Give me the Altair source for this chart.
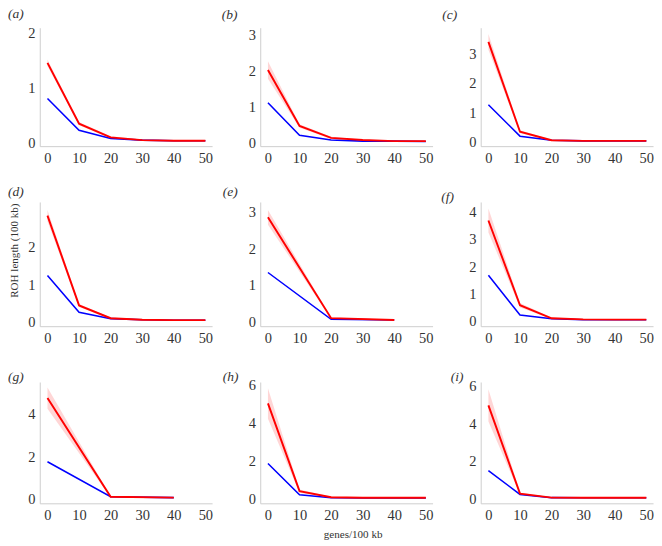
import altair as alt
import pandas as pd

# ---------------- data ----------------
x_full = [0, 10, 20, 30, 40, 50]
x_sparse = [0, 20, 40]
x_ticks = [0, 10, 20, 30, 40, 50]

panel_labels = ["(a)", "(b)", "(c)", "(d)", "(e)", "(f)", "(g)", "(h)", "(i)"]

red_a = [1.45, 0.34, 0.09, 0.04, 0.03, 0.03]
err_a = [0.06, 0.03, 0.02, 0.01, 0.01, 0.01]
blue_a = [0.80, 0.22, 0.07, 0.04, 0.03, 0.03]

red_b = [2.01, 0.46, 0.13, 0.07, 0.04, 0.04]
err_b = [0.24, 0.05, 0.03, 0.01, 0.01, 0.01]
blue_b = [1.10, 0.20, 0.07, 0.04, 0.04, 0.03]

red_c = [3.40, 0.34, 0.05, 0.03, 0.03, 0.03]
err_c = [0.27, 0.05, 0.02, 0.01, 0.01, 0.01]
blue_c = [1.26, 0.19, 0.05, 0.03, 0.03, 0.03]

red_d = [2.82, 0.44, 0.10, 0.06, 0.05, 0.05]
err_d = [0.15, 0.04, 0.02, 0.01, 0.01, 0.01]
blue_d = [1.23, 0.26, 0.09, 0.06, 0.05, 0.05]

red_e = [2.85, 0.09, 0.04]
err_e = [0.20, 0.02, 0.01]
blue_e = [1.34, 0.06, 0.04]

red_f = [3.68, 0.57, 0.09, 0.05, 0.04, 0.04]
err_f = [0.44, 0.08, 0.03, 0.01, 0.01, 0.01]
blue_f = [1.67, 0.21, 0.07, 0.04, 0.04, 0.04]

red_g = [4.75, 0.08, 0.04]
err_g = [0.50, 0.03, 0.01]
blue_g = [1.74, 0.08, 0.04]

red_h = [5.02, 0.42, 0.10, 0.07, 0.07, 0.07]
err_h = [0.80, 0.08, 0.03, 0.01, 0.01, 0.01]
blue_h = [1.87, 0.23, 0.07, 0.06, 0.06, 0.06]

red_i = [4.94, 0.29, 0.08, 0.07, 0.07, 0.07]
err_i = [0.85, 0.05, 0.02, 0.01, 0.01, 0.01]
blue_i = [1.50, 0.25, 0.08, 0.07, 0.07, 0.07]

y_domains = [
    [-0.07, 2.09], [-0.10, 3.18], [-0.15, 3.88],
    [-0.11, 3.18], [-0.13, 3.27], [-0.20, 4.36],
    [-0.23, 5.51], [-0.22, 6.14], [-0.22, 6.17],
]
y_ticks = [
    [0, 1, 2], [0, 1, 2, 3], [0, 1, 2, 3],
    [0, 1, 2], [0, 1, 2, 3], [0, 1, 2, 3, 4],
    [0, 2, 4], [0, 2, 4, 6], [0, 2, 4, 6],
]

x_title = "genes/100 kb"
y_title = "ROH length (100 kb)"

# ---------------- layout / style ----------------
W = 179
ROW_H = [123, 129, 126]
X_DOMAIN = [-2.44, 52.13]
FONT = "Liberation Serif"
TEXT_COLOR = "#333333"
RED = "#ff0000"
BLUE = "#0000ff"

# label offsets relative to each plot's top-left corner
label_pos = [
    (-33, -14), (-40, -13), (-40, -13),
    (-33, -10), (-39, -10), (-41, -5),
    (-33, -5), (-39, -5), (-31, -5),
]


def make_panel(k, xs, red, err, blue, height):
    df = pd.DataFrame({
        "x": xs,
        "red": red,
        "lo": [r - e for r, e in zip(red, err)],
        "hi": [r + e for r, e in zip(red, err)],
        "blue": blue,
    })
    xaxis_kwargs = dict(values=x_ticks, title=None, labelFlush=False)
    if k == 7:
        xaxis_kwargs.update(title=x_title, titleX=96, titleY=33,
                            titleBaseline="middle", titleAlign="center")
    yaxis_kwargs = dict(values=y_ticks[k], title=None)
    if k == 3:
        yaxis_kwargs.update(title=y_title, titleX=-26, titleY=50,
                            titleAngle=270, titleBaseline="middle",
                            titleAlign="center")
    xenc = alt.X("x:Q", scale=alt.Scale(domain=X_DOMAIN, nice=False, zero=False),
                 axis=alt.Axis(**xaxis_kwargs))
    yscale = alt.Scale(domain=y_domains[k], nice=False, zero=False)
    yaxis = alt.Axis(**yaxis_kwargs)

    base = alt.Chart(df)
    band = base.mark_area(color=RED, opacity=0.16).encode(
        x=xenc, y=alt.Y("lo:Q", scale=yscale, axis=yaxis), y2="hi:Q")
    bl = base.mark_line(color=BLUE, strokeWidth=1.6).encode(
        x=xenc, y=alt.Y("blue:Q", scale=yscale, axis=yaxis))
    rl = base.mark_line(color=RED, strokeWidth=2).encode(
        x=xenc, y=alt.Y("red:Q", scale=yscale, axis=yaxis))
    lx, ly = label_pos[k]
    lab = alt.Chart(pd.DataFrame({"label": [panel_labels[k]]})).mark_text(
        align="left", baseline="middle", font=FONT, fontSize=14,
        fontStyle="italic", color=TEXT_COLOR,
    ).encode(x=alt.value(lx), y=alt.value(ly), text="label:N")
    return alt.layer(band, bl, rl, lab).properties(width=W, height=height)


series = [
    (x_full, red_a, err_a, blue_a), (x_full, red_b, err_b, blue_b), (x_full, red_c, err_c, blue_c),
    (x_full, red_d, err_d, blue_d), (x_sparse, red_e, err_e, blue_e), (x_full, red_f, err_f, blue_f),
    (x_sparse, red_g, err_g, blue_g), (x_full, red_h, err_h, blue_h), (x_full, red_i, err_i, blue_i),
]

panels = [make_panel(k, *series[k], ROW_H[k // 3]) for k in range(9)]

chart = alt.concat(*panels, columns=3, spacing={"row": 58, "column": 50}, bounds="flush").properties(
    padding={"left": 0, "top": -11, "right": 0, "bottom": 0}
).configure_view(stroke=None).configure_axis(
    labelFont=FONT, labelFontSize=15, labelColor=TEXT_COLOR,
    titleFont=FONT, titleFontSize=11.5, titleFontWeight="normal", titleColor=TEXT_COLOR,
    ticks=False, grid=False, domainColor="#cccccc", domainWidth=1, labelPadding=5,
)

chart.save("out.html", embed_options={"renderer": "svg", "actions": False})
